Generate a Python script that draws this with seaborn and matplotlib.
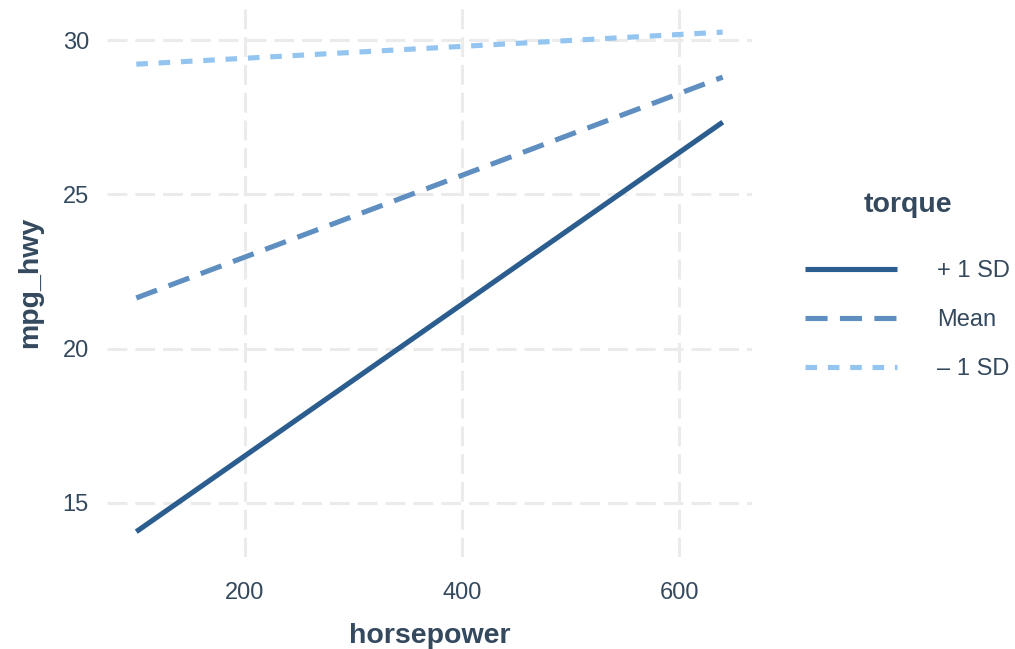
import matplotlib
matplotlib.use("Agg")
import matplotlib.pyplot as plt
import seaborn as sns
import pandas as pd

# data
horsepower = [100, 640]
levels = ["+ 1 SD", "Mean", "\u2013 1 SD"]
mpg_plus = [14.06, 27.34]
mpg_mean = [21.64, 28.80]
mpg_minus = [29.22, 30.26]

colors = {"+ 1 SD": "#2C5D8F", "Mean": "#5F8FC1", "\u2013 1 SD": "#93C5F0"}
dashes = {"+ 1 SD": "", "Mean": (4.3, 2.4), "\u2013 1 SD": (2.25, 2.1)}

rows = []
for lvl, vals in zip(levels, [mpg_plus, mpg_mean, mpg_minus]):
    for x, y in zip(horsepower, vals):
        rows.append({"horsepower": x, "mpg_hwy": y, "torque": lvl})
df = pd.DataFrame(rows)

sns.set_theme(style="white")
plt.rcParams["font.family"] = ["Liberation Sans", "DejaVu Sans"]
text_col = "#34495E"
LW = 3.7

fig = plt.figure(figsize=(10.15, 6.49), dpi=100)
ax = fig.add_axes([0.1054, 0.1418, 0.6355, 0.8472])

sns.lineplot(data=df, x="horsepower", y="mpg_hwy", hue="torque", style="torque",
             hue_order=levels, style_order=levels, palette=colors, dashes=dashes,
             linewidth=LW, ax=ax, legend=True)
for ln in ax.get_lines():
    ln.set_dash_capstyle("butt")
    ln.set_solid_capstyle("butt")

ax.set_xlim(73, 667)
ax.set_ylim(13.24, 31.07)
ax.set_xticks([200, 400, 600])
ax.set_yticks([15, 20, 25, 30])
ax.grid(True, color="#EBEBEB", linewidth=2.2, linestyle=(0, (6.5, 2.6)))
ax.set_axisbelow(True)
for s in ax.spines.values():
    s.set_visible(False)
ax.tick_params(axis="both", length=0, labelsize=17, labelcolor=text_col)
ax.tick_params(axis="y", pad=13)
ax.tick_params(axis="x", pad=18)
ax.set_xlabel("horsepower", fontsize=20.5, fontweight="bold", color=text_col, labelpad=14)
ax.set_ylabel("mpg_hwy", fontsize=20.5, fontweight="bold", color=text_col, labelpad=14)

handles, labels = ax.get_legend_handles_labels()
ax.legend_.remove()
leg = fig.legend(handles, labels, title="torque", loc="center left",
                 bbox_to_anchor=(0.793, 0.559), frameon=False, fontsize=17,
                 title_fontsize=20.5, handlelength=3.9, handletextpad=1.7,
                 labelspacing=1.14, borderaxespad=0, borderpad=0)
leg.get_title().set_fontweight("bold")
leg.get_title().set_color(text_col)
for t in leg.get_texts():
    t.set_color(text_col)
leg._legend_box.sep = 30
for h in leg.legend_handles:
    h.set_linewidth(LW)
    h.set_dash_capstyle("butt")

fig.savefig("out.png", dpi=100)
